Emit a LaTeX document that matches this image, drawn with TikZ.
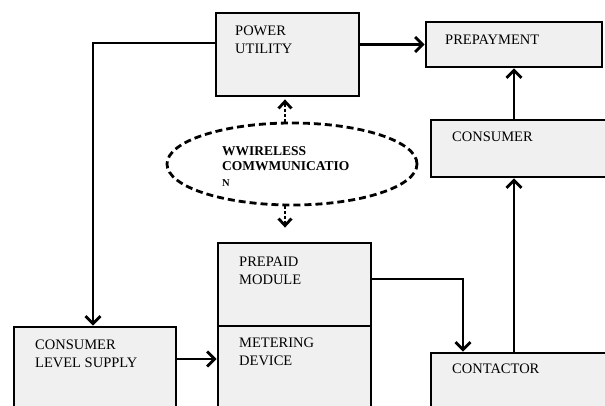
\documentclass[tikz,border=0pt]{standalone}
\usepackage{fontspec}
\setmainfont{Liberation Serif}
\usetikzlibrary{arrows.meta,shapes.geometric,calc}

\tikzset{
  blk/.style={draw=black, line width=2.8pt, fill=boxgray, rectangle, inner sep=0pt},
  txt/.style={anchor=north west, inner sep=0pt, align=left,
              font=\fontsize{14.5}{18}\selectfont},
  link/.style={line width=2.8pt, -{Straight Barb[length=7.5pt,width=15pt]}},
  radio/.style={line width=2.8pt, dotted, shorten >=2pt,
                -{Straight Barb[length=7pt,width=13pt]}},
}
\definecolor{boxgray}{HTML}{F0F0F0}

\begin{document}
\begin{tikzpicture}[x=1pt, y=-1pt]
  \clip (0,0) rectangle (605,406);
  \fill[white] (0,0) rectangle (605,406);

  % blocks (x0,y0) to (x1,y1) in picture units
  \node[blk, minimum width=143pt, minimum height=83pt]  (pu)   at (287.5, 54.5) {};
  \node[blk, minimum width=176pt, minimum height=45pt]  (pp)   at (514, 44.5) {};
  \node[blk, minimum width=189pt, minimum height=57pt]  (cons) at (525.5, 148.5) {};
  \node[blk, minimum width=189pt, minimum height=90pt]  (cont) at (525.5, 398) {};
  \node[blk, minimum width=153pt, minimum height=83pt]  (pm)   at (294.5, 284.5) {};
  \node[blk, minimum width=153pt, minimum height=110pt] (md)   at (294.5, 381) {};
  \node[blk, minimum width=162pt, minimum height=113pt] (cls)  at (95, 383.5) {};

  % wireless link
  \node[draw, ellipse, line width=2.8pt, dash pattern=on 7pt off 4pt,
        minimum width=250pt, minimum height=82pt, inner sep=0pt] (wl) at (292,164) {};

  % labels
  \node[txt] (tpu)   at (235, 26)  {POWER\\UTILITY};
  \node[txt] (tpp)   at (445, 35)  {PREPAYMENT};
  \node[txt] (tcons) at (452, 132) {CONSUMER};
  \node[txt] (tcont) at (452, 364) {CONTACTOR};
  \node[txt] (tpm)   at (239, 257) {PREPAID\\MODULE};
  \node[txt] (tmd)   at (239, 338) {METERING\\DEVICE};
  \node[txt] (tcls)  at (35, 340)  {CONSUMER\\LEVEL SUPPLY};
  \node[txt, font=\fontsize{13.5}{15.5}\bfseries] (twl) at (222, 146)
       {WWIRELESS\\COMWMUNICATIO\\{\fontsize{10.5}{12}\selectfont N}};

  % connectors
  \draw[link] ([yshift=11.5pt]pu.west) -| ([xshift=-2pt]cls.north);
  \draw[link] (pu.east |- pp.west) -- (pp.west);
  \draw[link] (cons.north -| pp.south) -- (pp.south);
  \draw[link] (cont.north -| pp.south) -- (cons.south -| pp.south);
  \draw[link] ([yshift=5.5pt]pm.east) -| ([xshift=-62.5pt]cont.north);
  \draw[link] (cls.east |- 0,359) -- (md.west |- 0,359);
  \draw[radio] (wl.north -| 285,0) -- (pu.south -| 285,0);
  \draw[radio, shorten >=14pt] (wl.south -| 285,0) -- (pm.north -| 285,0);
\end{tikzpicture}
\end{document}
